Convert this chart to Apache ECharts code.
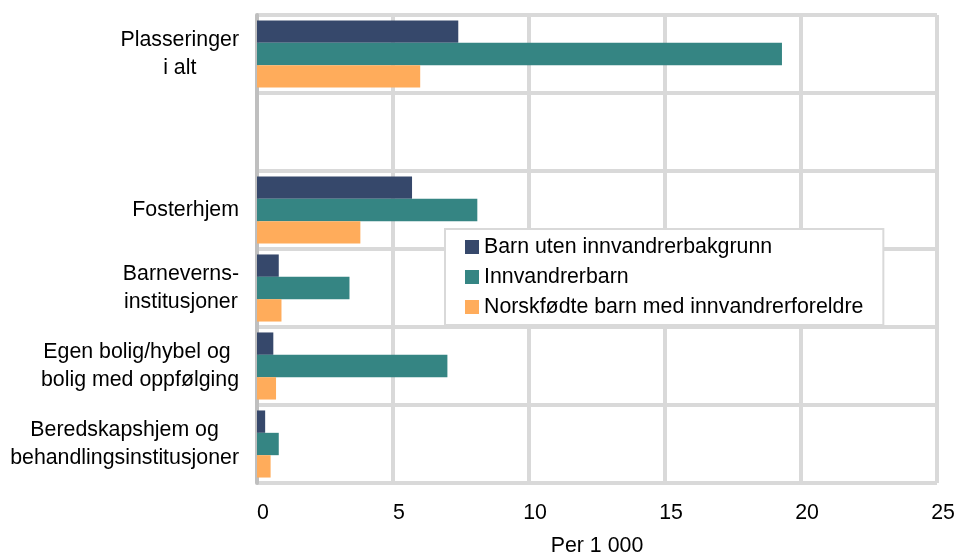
<!DOCTYPE html>
<html>
<head>
<meta charset="utf-8">
<script src="https://cdn.jsdelivr.net/npm/echarts@6/dist/echarts.min.js"></script>
<style>html,body{margin:0;padding:0;background:#fff;}#c{width:955px;height:559px;}</style>
</head>
<body>
<div id="c"></div>
<script>
const categories = ['Plasseringer\ni alt', '', 'Fosterhjem', 'Barneverns-\ninstitusjoner', 'Egen bolig/hybel og \nbolig med oppfølging', 'Beredskapshjem og\nbehandlingsinstitusjoner'];
const seriesNames = ['Barn uten innvandrerbakgrunn', 'Innvandrerbarn', 'Norskfødte barn med innvandrerforeldre'];
const barnUten = [7.4, null, 5.7, 0.8, 0.6, 0.3];
const innvandrerbarn = [19.3, null, 8.1, 3.4, 7.0, 0.8];
const norskfodte = [6.0, null, 3.8, 0.9, 0.7, 0.5];
const xTicks = { min: 0, max: 25, interval: 5 };
const axisTitle = 'Per 1 000';
const colors = ['#36486b', '#358583', '#ffac5b'];

const FONT = '"Liberation Sans", Arial, sans-serif';
const FS = 21.33;
const chart = echarts.init(document.getElementById('c'), null, { renderer: 'canvas' });
chart.setOption({
  animation: false,
  color: colors,
  textStyle: { fontFamily: FONT },
  grid: { left: 257, right: 18, top: 15, bottom: 76, containLabel: false, outerBoundsMode: 'none' },
  legend: {
    orient: 'vertical',
    left: 445, top: 229,
    padding: [7, 20, 7, 20],
    itemGap: 8,
    itemWidth: 14, itemHeight: 14,
    icon: 'rect',
    backgroundColor: '#fff',
    borderColor: '#d9d9d9', borderWidth: 2,
    textStyle: { fontFamily: FONT, fontSize: FS, color: '#000', lineHeight: 22 },
    data: seriesNames
  },
  xAxis: {
    type: 'value',
    min: xTicks.min, max: xTicks.max, interval: xTicks.interval,
    axisLine: { show: false },
    axisTick: { show: false },
    splitLine: { show: true, lineStyle: { color: '#d9d9d9', width: 4 } },
    axisLabel: { fontFamily: FONT, fontSize: FS, color: '#000', margin: 20, padding: [0, 0, 0, 12] },
    name: axisTitle,
    nameLocation: 'middle',
    nameGap: 53,
    nameTextStyle: { fontFamily: FONT, fontSize: FS, color: '#000' }
  },
  yAxis: {
    type: 'category',
    inverse: true,
    data: categories,
    axisTick: { show: false },
    axisLine: { show: true, lineStyle: { color: '#bfbfbf', width: 4, cap: 'round' } },
    splitLine: { show: true, lineStyle: { color: '#d9d9d9', width: 4 } },
    axisLabel: {
      margin: 18,
      align: 'right',
      formatter: v => v.split('\n').map(l => '{c|' + l + '}').join('\n'),
      rich: { c: { align: 'center', fontFamily: FONT, fontSize: FS, lineHeight: 28, color: '#000' } }
    }
  },
  series: [
    { name: seriesNames[0], type: 'bar', data: barnUten, barGap: '0%', barCategoryGap: '14%' },
    { name: seriesNames[1], type: 'bar', data: innvandrerbarn, barGap: '0%', barCategoryGap: '14%' },
    { name: seriesNames[2], type: 'bar', data: norskfodte, barGap: '0%', barCategoryGap: '14%' }
  ]
});
</script>
</body>
</html>
